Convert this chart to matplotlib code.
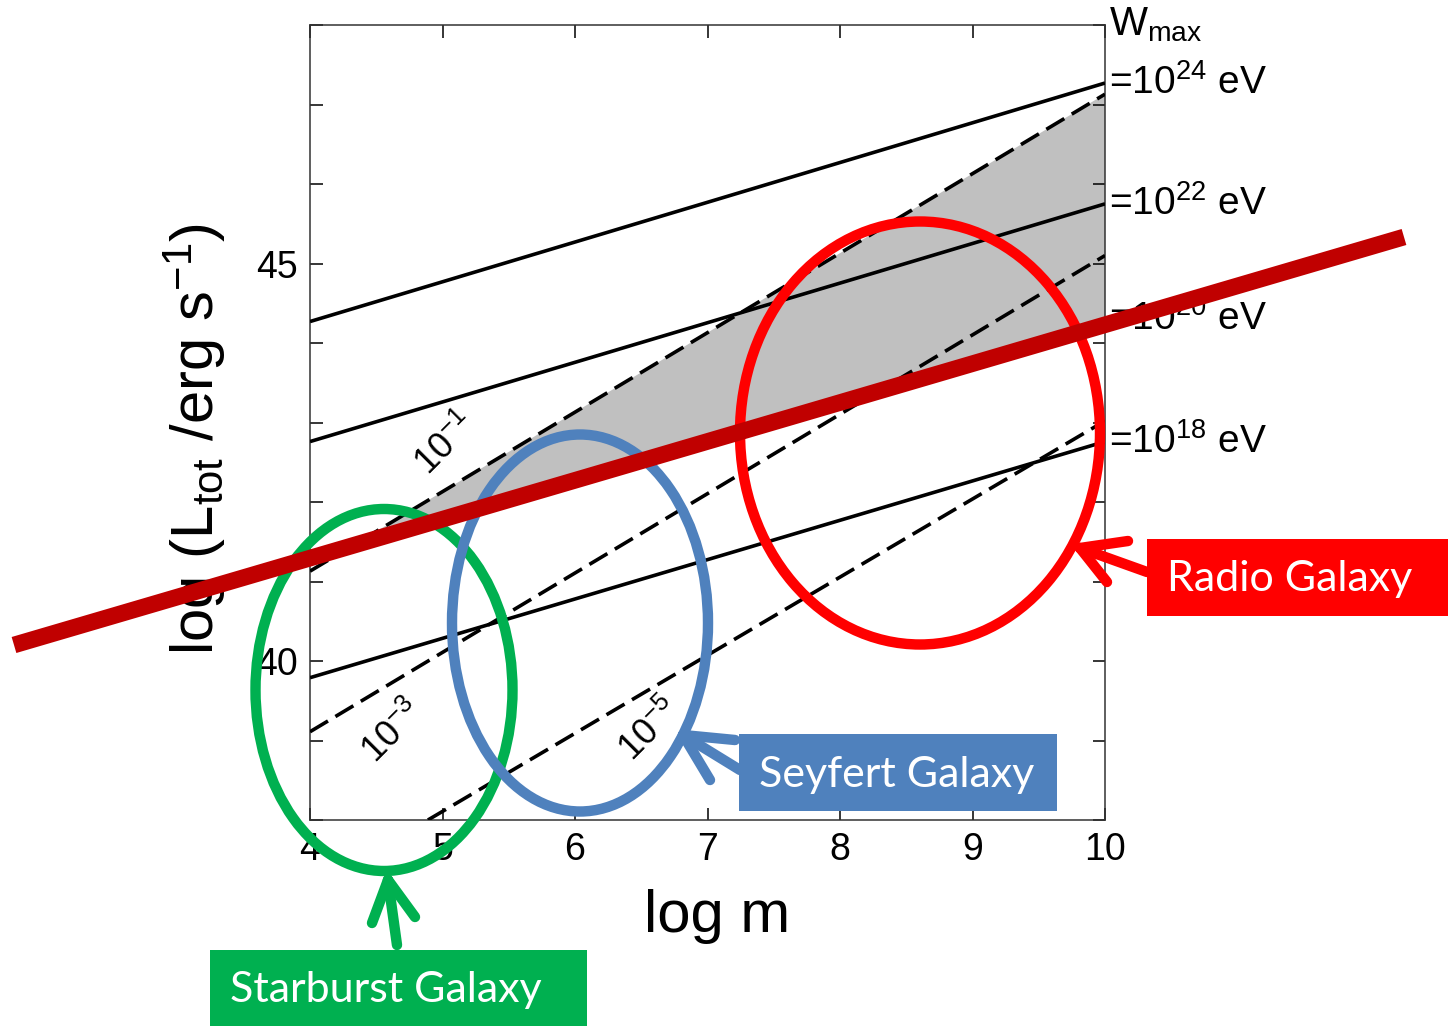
import numpy as np
import matplotlib
matplotlib.use("Agg")
import matplotlib.pyplot as plt
from matplotlib.patches import Ellipse, Rectangle

plt.rcParams['font.family'] = ['Liberation Sans', 'DejaVu Sans']
plt.rcParams['mathtext.default'] = 'regular'

### ******************
###       data
### ******************

# solid lines, W_max = 10^N eV, log L at log m = 4 and 10
wmax_exp = [24, 22, 20, 18]
wmax_m   = [4, 10]
wmax_L   = [[44.27, 47.27],
            [42.76, 45.75],
            [41.30, 44.30],
            [39.79, 42.76]]

# dashed lines, efficiency 10^-1, 10^-3, 10^-5
eta_exp = [-1, -3, -5]
eta_m   = [[4, 10], [4, 10], [4.89, 10]]
eta_L   = [[41.13, 47.13],
           [39.11, 45.10],
           [38.00, 43.02]]
eta_label_at = [(5.03, 42.72), (4.63, 39.10), (6.57, 39.13)]

x_ticks = [4, 5, 6, 7, 8, 9, 10]
y_ticks = list(range(38, 49))
y_labeled = [40, 45]

# annotations (pixel coords of the slide)
red_bar = [(14, 645), (1404, 237)]
ellipses = [  # centre, width, height, colour
    ((384, 690), 257, 362, '#00B050'),
    ((580, 623), 256, 377, '#4F81BD'),
    ((920, 433), 360, 423, '#FF0000'),
]
boxes = [  # x0, y0, x1, y1, text, colour
    (1147, 539, 1448, 616, 'Radio Galaxy', '#FF0000'),
    (739, 734, 1057, 811, 'Seyfert Galaxy', '#4F81BD'),
    (210, 950, 587, 1026, 'Starburst Galaxy', '#00B050'),
]
arrows = [  # tail, tip, arm1, arm2, colour
    ((1147, 572), (1080, 548), (1128, 541), (1107, 582), '#FF0000'),
    ((740, 770), (683, 735), (735, 740), (710, 780), '#4F81BD'),
    ((397, 945), (388, 880), (372, 923), (415, 917), '#00B050'),
]

### ******************
###       plot
### ******************

W, H = 1448, 1026
fig = plt.figure(figsize=(W/100, H/100), dpi=100)
ax = fig.add_axes([310/W, 1-820/H, 795/W, 795/H])

# grey band between 10^-1 dashed and W_max=10^20 solid line
(x1, x2), (a1, a2) = eta_m[0], eta_L[0]
(b1, b2) = wmax_L[2]
s_a = (a2 - a1)/(x2 - x1)
s_b = (b2 - b1)/(wmax_m[1] - wmax_m[0])
xc = (b1 - s_b*wmax_m[0] - (a1 - s_a*x1))/(s_a - s_b)
yc = a1 + s_a*(xc - x1)
ax.fill([xc, 10, 10], [yc, a2, b2], color='#C0C0C0', lw=0, zorder=1)

for L in wmax_L:
    ax.plot(wmax_m, L, color='black', lw=2.6, solid_capstyle='butt', zorder=3)
for m, L in zip(eta_m, eta_L):
    ax.plot(m, L, color='black', lw=2.6, dashes=(5.8, 2.4), zorder=3)

for e, (xl, yl) in zip(eta_exp, eta_label_at):
    ax.text(xl, yl, r'10$^{%d}$' % e, rotation=45, fontsize=26,
            ha='center', va='center', zorder=4)

for e, L in zip(wmax_exp, wmax_L):
    ax.text(10.03, L[1], r'=10$^{%d}$ eV' % e, fontsize=28,
            ha='left', va='center', clip_on=False)
ax.text(1.005, 1.0, r'W$_{max}$', transform=ax.transAxes, fontsize=29,
        ha='left', va='center', clip_on=False)

ax.set_xlim(4, 10)
ax.set_ylim(38, 48)
ax.set_xticks(x_ticks)
ax.set_yticks(y_ticks)
ax.set_yticklabels([str(v) if v in y_labeled else '' for v in y_ticks])
ax.tick_params(direction='in', length=9, width=1.1, top=True, right=True,
               labelsize=27, pad=9)
for sp in ax.spines.values():
    sp.set_linewidth(1.1)
    sp.set_color('#333333')
ax.set_xlabel('log m', fontsize=43)
ax.xaxis.set_label_coords(0.512, -0.087)
ax.set_ylabel(r'log (L$_{tot}$ /erg s$^{-1}$)', fontsize=43)
ax.yaxis.set_label_coords(-0.103, 0.479)

# slide annotations on top
ov = fig.add_axes([0, 0, 1, 1], zorder=5)
ov.set_xlim(0, W)
ov.set_ylim(H, 0)
ov.axis('off')
ov.patch.set_alpha(0)

ov.plot(*zip(*red_bar), color='#C00000', lw=12, solid_capstyle='butt')
for (cx, cy), w, h, c in ellipses:
    ov.add_patch(Ellipse((cx, cy), w, h, fill=False, ec=c, lw=7.5))
for x0, y0, x1_, y1_, txt, c in boxes:
    ov.add_patch(Rectangle((x0, y0), x1_ - x0, y1_ - y0, fc=c, ec='none'))
    ov.text(x0 + 20, (y0 + y1_)/2 + 2, txt, color='white', fontsize=31,
            family=['Lato', 'DejaVu Sans'], ha='left', va='center')
for tail, tip, arm1, arm2, c in arrows:
    for p in (tail, arm1, arm2):
        ov.plot([p[0], tip[0]], [p[1], tip[1]], color=c, lw=7.5,
                solid_capstyle='round')

fig.savefig('out.png', dpi=100)
